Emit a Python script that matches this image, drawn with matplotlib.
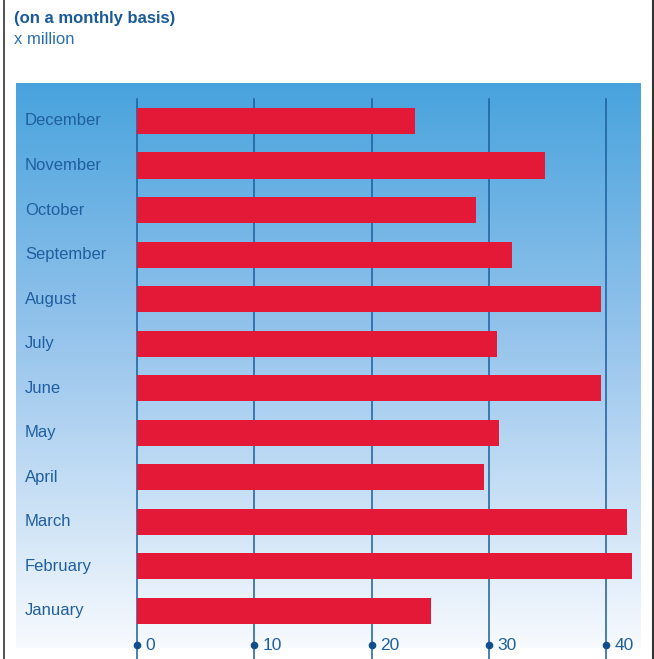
import numpy as np
import matplotlib
matplotlib.use("Agg")
import matplotlib.pyplot as plt
from matplotlib.colors import LinearSegmentedColormap
from matplotlib.lines import Line2D

plt.rcParams['font.family'] = ['Liberation Sans', 'DejaVu Sans']

months = ["January", "February", "March", "April", "May", "June",
          "July", "August", "September", "October", "November", "December"]
values = [25.1, 42.2, 41.8, 29.6, 30.9, 39.6, 30.7, 39.6, 32.0, 28.9, 34.8, 23.7]
ticks = [0, 10, 20, 30, 40]
subtitle = "(on a monthly basis)"
unit = "x million"

W, H = 654, 659
fig = plt.figure(figsize=(W / 100, H / 100), dpi=100)
fig.patch.set_facecolor("white")

# panel in pixel coords
pl, pr, pt, pb = 16, 641, 83, 648
ax = fig.add_axes([pl / W, (H - pb) / H, (pr - pl) / W, (pb - pt) / H])

x0px, px_per_unit = 137, 11.725
xmin = (pl - x0px) / px_per_unit
xmax = (pr - x0px) / px_per_unit
ybase, ystep = 611, 44.55
ymin = (ybase - pb) / ystep
ymax = (ybase - pt) / ystep
ax.set_xlim(xmin, xmax)
ax.set_ylim(ymin, ymax)

# gradient background
top = np.array([72, 163, 221]) / 255
mid = np.array([150, 196, 236]) / 255
bot = np.array([247, 250, 254]) / 255
cmap = LinearSegmentedColormap.from_list("bg", [(0, bot), (0.55, mid), (1, top)])
grad = np.linspace(0, 1, 256).reshape(-1, 1)
ax.imshow(grad, extent=(xmin, xmax, ymin, ymax), origin="lower",
          aspect="auto", cmap=cmap, zorder=0, interpolation="bicubic")

line_col = "#1b5e9e"
text_col = "#1f5f9f"
axh = pb - pt
ytop_line = (pb - 99) / axh
ybot_line = (pb - H) / axh
ydot = (pb - 645) / axh
for t in ticks:
    ax.axvline(t, ymin=ybot_line, ymax=ytop_line, color=line_col, lw=1.1,
               clip_on=False, zorder=1)
    ax.plot([t], [ydot], transform=ax.get_xaxis_transform(), marker="o",
            ms=4.5, color="#104f8e", clip_on=False, zorder=3)
    ax.text(t + 0.75, ydot, str(t), transform=ax.get_xaxis_transform(),
            ha="left", va="center", fontsize=12.5, color=text_col, zorder=3)

y = np.arange(len(months))
ax.barh(y, values, height=0.584, left=0, color="#e31937", zorder=2)

for i, m in enumerate(months):
    ax.text((25 - pl) / (pr - pl), i, m, transform=ax.get_yaxis_transform()
            if False else matplotlib.transforms.blended_transform_factory(ax.transAxes, ax.transData),
            ha="left", va="center", fontsize=12, color=text_col, zorder=3)

ax.set_xticks([])
ax.set_yticks([])
for s in ax.spines.values():
    s.set_visible(False)

# titles
fig.text(14 / W, 1 - 18 / H, subtitle, ha="left", va="center",
         fontsize=12, fontweight="bold", color="#1a5a9a")
fig.text(14 / W, 1 - 40 / H, unit, ha="left", va="center",
         fontsize=12, color="#2a6fb0")

# frame lines
fig.add_artist(Line2D([4 / W, 4 / W], [0, 1], transform=fig.transFigure,
                      color="#333333", lw=1.2))
fig.add_artist(Line2D([652.5 / W, 652.5 / W], [0, 1], transform=fig.transFigure,
                      color="#333333", lw=1.5))

fig.savefig("out.png", dpi=100)
